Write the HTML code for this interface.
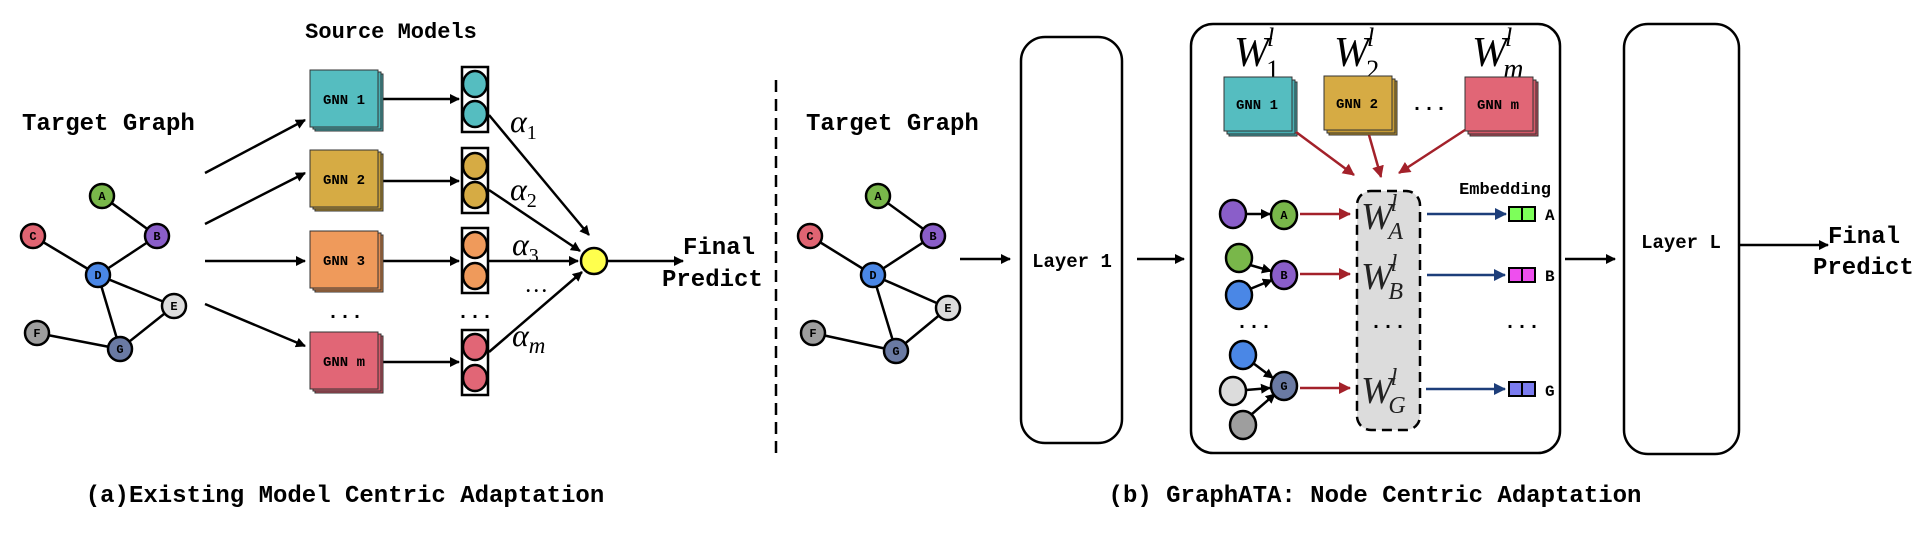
<!DOCTYPE html>
<html><head><meta charset="utf-8"><style>
html,body{margin:0;padding:0;background:#fff;}
svg{display:block;}
.m{font-family:"Liberation Mono",monospace;font-weight:bold;}
.s{font-family:"Liberation Serif",serif;font-style:italic;}
</style></head><body>
<svg width="1918" height="536" viewBox="0 0 1918 536" xmlns="http://www.w3.org/2000/svg">
<defs>
<marker id="ak" markerWidth="10" markerHeight="10" refX="9" refY="5" orient="auto" markerUnits="userSpaceOnUse"><path d="M0,0 L10,5 L0,10 z" fill="#000"/></marker>
<marker id="ar" markerWidth="12" markerHeight="12" refX="11" refY="6" orient="auto" markerUnits="userSpaceOnUse"><path d="M0,0 L12,6 L0,12 z" fill="#a3212a"/></marker>
<marker id="ab" markerWidth="12" markerHeight="12" refX="11" refY="6" orient="auto" markerUnits="userSpaceOnUse"><path d="M0,0 L12,6 L0,12 z" fill="#1d3e7a"/></marker>
</defs>

<!-- ===== Left panel ===== -->
<text x="391" y="38" class="m" font-size="22" text-anchor="middle">Source Models</text>
<text x="22" y="130" class="m" font-size="24">Target Graph</text>

<g stroke="#000" stroke-width="2.5">
<line x1="102" y1="196" x2="157" y2="236"/><line x1="33" y1="236" x2="98" y2="275"/>
<line x1="157" y1="236" x2="98" y2="275"/><line x1="98" y1="275" x2="174" y2="306"/>
<line x1="98" y1="275" x2="120" y2="349"/><line x1="174" y1="306" x2="120" y2="349"/>
<line x1="37" y1="333" x2="120" y2="349"/>
</g>
<g stroke="#000" stroke-width="2.5">
<circle cx="102" cy="196" r="12" fill="#79b74a"/><circle cx="157" cy="236" r="12" fill="#8a5ec9"/>
<circle cx="33" cy="236" r="12" fill="#e06472"/><circle cx="98" cy="275" r="12" fill="#4a87e6"/>
<circle cx="174" cy="306" r="12" fill="#dcdcdc"/><circle cx="37" cy="333" r="12" fill="#9e9e9e"/>
<circle cx="120" cy="349" r="12" fill="#6a7aa3"/>
</g>
<g class="m" font-size="12" text-anchor="middle">
<text x="102" y="200">A</text><text x="157" y="240">B</text><text x="33" y="240">C</text><text x="98" y="279">D</text><text x="174" y="310">E</text><text x="37" y="337">F</text><text x="120" y="353">G</text>
</g>

<g stroke="#000" stroke-width="2.5" marker-end="url(#ak)">
<line x1="205" y1="173" x2="305" y2="120"/><line x1="205" y1="224" x2="305" y2="173"/>
<line x1="205" y1="261" x2="305" y2="261"/><line x1="205" y1="304" x2="305" y2="346"/>
<line x1="381" y1="99" x2="459" y2="99"/><line x1="381" y1="181" x2="459" y2="181"/>
<line x1="381" y1="261" x2="459" y2="261"/><line x1="381" y1="362" x2="459" y2="362"/>
<line x1="489" y1="115" x2="589" y2="235"/><line x1="489" y1="190" x2="580" y2="251"/>
<line x1="489" y1="261" x2="578" y2="261"/><line x1="489" y1="352" x2="582" y2="272"/>
<line x1="607" y1="261" x2="683" y2="261"/>
</g>

<g stroke="#333" stroke-width="1">
<rect x="315" y="74" width="68" height="57" fill="#3fa9ad"/><rect x="313" y="72" width="68" height="57" fill="#47b0b4"/><rect x="310" y="70" width="68" height="57" fill="#55bdc0"/>
<rect x="315" y="154" width="68" height="57" fill="#b8902a"/><rect x="313" y="152" width="68" height="57" fill="#c79c35"/><rect x="310" y="150" width="68" height="57" fill="#d6ab44"/>
<rect x="315" y="235" width="68" height="57" fill="#d7803f"/><rect x="313" y="233" width="68" height="57" fill="#e48c4f"/><rect x="310" y="231" width="68" height="57" fill="#ef9a5b"/>
<rect x="315" y="336" width="68" height="57" fill="#c94b5c"/><rect x="313" y="334" width="68" height="57" fill="#d65868"/><rect x="310" y="332" width="68" height="57" fill="#e16676"/>
</g>
<g class="m" font-size="14" text-anchor="middle">
<text x="344" y="104">GNN 1</text><text x="344" y="184">GNN 2</text><text x="344" y="265">GNN 3</text><text x="344" y="366">GNN m</text>
</g>
<text x="345" y="318" class="m" font-size="20" text-anchor="middle">...</text>
<text x="475" y="318" class="m" font-size="20" text-anchor="middle">...</text>

<g stroke="#000" stroke-width="2.5">
<rect x="462" y="67" width="26" height="65" fill="#fff"/><rect x="462" y="148" width="26" height="65" fill="#fff"/>
<rect x="462" y="228" width="26" height="65" fill="#fff"/><rect x="462" y="330" width="26" height="65" fill="#fff"/>
<ellipse cx="475" cy="84" rx="12" ry="13" fill="#55bdc0"/><ellipse cx="475" cy="114" rx="12" ry="13" fill="#55bdc0"/>
<ellipse cx="475" cy="166" rx="12" ry="13" fill="#d6ab44"/><ellipse cx="475" cy="195" rx="12" ry="13" fill="#d6ab44"/>
<ellipse cx="475" cy="245" rx="12" ry="13" fill="#ef9a5b"/><ellipse cx="475" cy="276" rx="12" ry="13" fill="#ef9a5b"/>
<ellipse cx="475" cy="347" rx="12" ry="13" fill="#e16676"/><ellipse cx="475" cy="378" rx="12" ry="13" fill="#e16676"/>
<circle cx="594" cy="261" r="13" fill="#ffff4d"/>
</g>
<g class="s" font-size="32">
<text x="510" y="132">α<tspan font-size="20" font-style="normal" dy="7">1</tspan></text>
<text x="510" y="200">α<tspan font-size="20" font-style="normal" dy="7">2</tspan></text>
<text x="512" y="255">α<tspan font-size="20" font-style="normal" dy="7">3</tspan></text>
<text x="512" y="346">α<tspan font-size="23" dy="7">m</tspan></text>
</g>
<text x="526" y="292" class="s" font-size="24" font-style="normal">…</text>
<text x="683" y="254" class="m" font-size="24">Final</text>
<text x="662" y="286" class="m" font-size="24">Predict</text>

<line x1="776" y1="80" x2="776" y2="460" stroke="#000" stroke-width="2.5" stroke-dasharray="12,7"/>
<text x="345" y="502" class="m" font-size="24" text-anchor="middle">(a)Existing Model Centric Adaptation</text>

<!-- ===== Right panel ===== -->
<text x="806" y="130" class="m" font-size="24">Target Graph</text>
<g stroke="#000" stroke-width="2.5">
<line x1="878" y1="196" x2="933" y2="236"/><line x1="810" y1="236" x2="873" y2="275"/>
<line x1="933" y1="236" x2="873" y2="275"/><line x1="873" y1="275" x2="948" y2="308"/>
<line x1="873" y1="275" x2="896" y2="351"/><line x1="948" y1="308" x2="896" y2="351"/>
<line x1="813" y1="333" x2="896" y2="351"/>
<circle cx="878" cy="196" r="12" fill="#79b74a"/><circle cx="933" cy="236" r="12" fill="#8a5ec9"/>
<circle cx="810" cy="236" r="12" fill="#e06472"/><circle cx="873" cy="275" r="12" fill="#4a87e6"/>
<circle cx="948" cy="308" r="12" fill="#dcdcdc"/><circle cx="813" cy="333" r="12" fill="#9e9e9e"/>
<circle cx="896" cy="351" r="12" fill="#6a7aa3"/>
</g>
<g class="m" font-size="12" text-anchor="middle">
<text x="878" y="200">A</text><text x="933" y="240">B</text><text x="810" y="240">C</text><text x="873" y="279">D</text><text x="948" y="312">E</text><text x="813" y="337">F</text><text x="896" y="355">G</text>
</g>

<g stroke="#000" stroke-width="2.5" marker-end="url(#ak)">
<line x1="960" y1="259" x2="1010" y2="259"/><line x1="1137" y1="259" x2="1184" y2="259"/>
<line x1="1565" y1="259" x2="1615" y2="259"/><line x1="1740" y1="245" x2="1828" y2="245"/>
</g>
<rect x="1021" y="37" width="101" height="406" rx="24" fill="#fff" stroke="#000" stroke-width="2.5"/>
<text x="1072" y="267" class="m" font-size="19" text-anchor="middle">Layer 1</text>
<rect x="1191" y="24" width="369" height="429" rx="22" fill="#fff" stroke="#000" stroke-width="2.5"/>
<rect x="1624" y="24" width="115" height="430" rx="24" fill="#fff" stroke="#000" stroke-width="2.5"/>
<text x="1681" y="248" class="m" font-size="19" text-anchor="middle">Layer L</text>
<text x="1828" y="243" class="m" font-size="24">Final</text>
<text x="1813" y="274" class="m" font-size="24">Predict</text>

<g class="s" font-size="42">
<text x="1234" y="66">W<tspan font-size="26" dx="-2" dy="-20">l</tspan><tspan font-size="26" font-style="normal" dx="-8" dy="32">1</tspan></text>
<text x="1334" y="66">W<tspan font-size="26" dx="-2" dy="-20">l</tspan><tspan font-size="26" font-style="normal" dx="-8" dy="32">2</tspan></text>
<text x="1472" y="66">W<tspan font-size="26" dx="-2" dy="-20">l</tspan><tspan font-size="28" dx="-9" dy="32">m</tspan></text>
</g>
<g stroke="#333" stroke-width="1">
<rect x="1229" y="82" width="68" height="54" fill="#3fa9ad"/><rect x="1227" y="80" width="68" height="54" fill="#47b0b4"/><rect x="1224" y="77" width="68" height="54" fill="#55bdc0"/>
<rect x="1329" y="81" width="68" height="54" fill="#b8902a"/><rect x="1327" y="79" width="68" height="54" fill="#c79c35"/><rect x="1324" y="76" width="68" height="54" fill="#d6ab44"/>
<rect x="1470" y="82" width="68" height="54" fill="#c94b5c"/><rect x="1468" y="80" width="68" height="54" fill="#d65868"/><rect x="1465" y="77" width="68" height="54" fill="#e16676"/>
</g>
<g class="m" font-size="14" text-anchor="middle">
<text x="1257" y="109">GNN 1</text><text x="1357" y="108">GNN 2</text><text x="1498" y="109">GNN m</text>
</g>
<text x="1429" y="110" class="m" font-size="20" text-anchor="middle">...</text>

<g stroke="#a3212a" stroke-width="2.5" marker-end="url(#ar)">
<line x1="1296" y1="132" x2="1354" y2="175"/><line x1="1369" y1="135" x2="1381" y2="177"/>
<line x1="1465" y1="130" x2="1399" y2="173"/>
<line x1="1300" y1="214" x2="1350" y2="214"/><line x1="1300" y1="274" x2="1350" y2="274"/>
<line x1="1300" y1="388" x2="1350" y2="388"/>
</g>

<rect x="1357" y="191" width="63" height="239" rx="14" fill="#dcdcdc" stroke="#000" stroke-width="2.5" stroke-dasharray="10,6"/>
<g class="s" font-size="38" fill="#222">
<text x="1361" y="229">W<tspan font-size="24" dx="-2" dy="-18">l</tspan><tspan font-size="24" dx="-9" dy="28">A</tspan></text>
<text x="1361" y="289">W<tspan font-size="24" dx="-2" dy="-18">l</tspan><tspan font-size="24" dx="-9" dy="28">B</tspan></text>
<text x="1361" y="403">W<tspan font-size="24" dx="-2" dy="-18">l</tspan><tspan font-size="24" dx="-9" dy="28">G</tspan></text>
</g>
<text x="1388" y="328" class="m" font-size="20" text-anchor="middle">...</text>

<g stroke="#000" stroke-width="2.5" marker-end="url(#ak)">
<line x1="1246" y1="214" x2="1270" y2="214"/>
<line x1="1250" y1="265" x2="1271" y2="271"/><line x1="1250" y1="289" x2="1272" y2="280"/>
<line x1="1253" y1="363" x2="1273" y2="378"/><line x1="1246" y1="390" x2="1270" y2="388"/><line x1="1252" y1="414" x2="1275" y2="394"/>
</g>
<g stroke="#000" stroke-width="2.5">
<ellipse cx="1233" cy="214" rx="13" ry="14" fill="#8a5ec9"/><ellipse cx="1284" cy="215" rx="13" ry="14" fill="#79b74a"/>
<ellipse cx="1239" cy="258" rx="13" ry="14" fill="#79b74a"/><ellipse cx="1239" cy="295" rx="13" ry="14" fill="#4a87e6"/>
<ellipse cx="1284" cy="275" rx="13" ry="14" fill="#8a5ec9"/>
<ellipse cx="1243" cy="355" rx="13" ry="14" fill="#4a87e6"/><ellipse cx="1233" cy="391" rx="13" ry="14" fill="#dcdcdc"/>
<ellipse cx="1243" cy="425" rx="13" ry="14" fill="#9e9e9e"/><ellipse cx="1284" cy="386" rx="13" ry="14" fill="#6a7aa3"/>
</g>
<g class="m" font-size="12" text-anchor="middle">
<text x="1284" y="219">A</text><text x="1284" y="279">B</text><text x="1284" y="390">G</text>
</g>
<text x="1254" y="328" class="m" font-size="20" text-anchor="middle">...</text>

<g stroke="#1d3e7a" stroke-width="2.5" marker-end="url(#ab)">
<line x1="1427" y1="214" x2="1506" y2="214"/><line x1="1427" y1="275" x2="1505" y2="275"/>
<line x1="1426" y1="389" x2="1505" y2="389"/>
</g>
<text x="1505" y="194" class="m" font-size="17" text-anchor="middle">Embedding</text>
<g stroke="#000" stroke-width="2">
<rect x="1509" y="207" width="26" height="14" fill="#7dff5a"/><line x1="1522" y1="207" x2="1522" y2="221"/>
<rect x="1509" y="268" width="26" height="14" fill="#ee4fee"/><line x1="1522" y1="268" x2="1522" y2="282"/>
<rect x="1509" y="382" width="26" height="14" fill="#7b7cf0"/><line x1="1522" y1="382" x2="1522" y2="396"/>
</g>
<g class="m" font-size="16">
<text x="1545" y="220">A</text><text x="1545" y="281">B</text><text x="1545" y="396">G</text>
</g>
<text x="1522" y="328" class="m" font-size="20" text-anchor="middle">...</text>

<text x="1375" y="502" class="m" font-size="24" text-anchor="middle">(b) GraphATA: Node Centric Adaptation</text>
</svg>
</body></html>
